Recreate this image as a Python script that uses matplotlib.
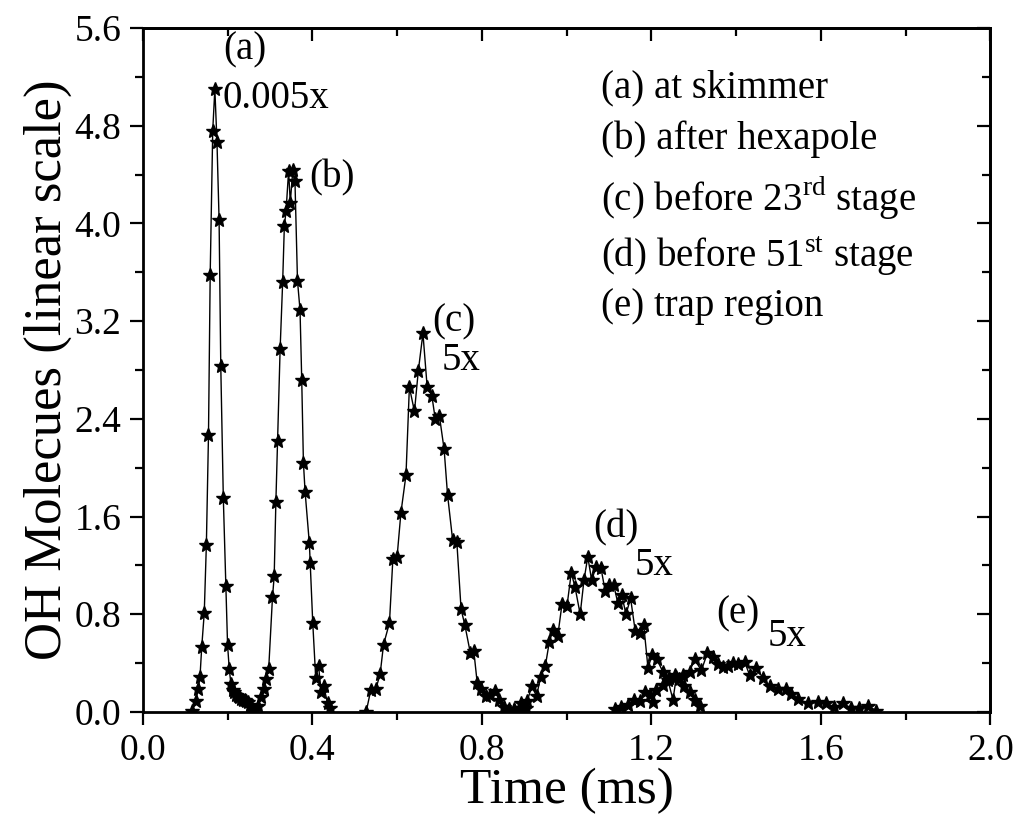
import numpy as np
import matplotlib
matplotlib.use("Agg")
import matplotlib.pyplot as plt
from matplotlib.ticker import MultipleLocator, FormatStrFormatter

plt.rcParams['font.family'] = ['Liberation Serif', 'DejaVu Serif']
plt.rcParams['mathtext.fontset'] = 'custom'
plt.rcParams['mathtext.rm'] = 'Liberation Serif'

# (a) at skimmer (scaled 0.005x)
t_a = [0.117, 0.125, 0.131, 0.135, 0.139, 0.145, 0.150, 0.155, 0.159, 0.165, 0.170,
       0.175, 0.180, 0.184, 0.190, 0.196, 0.200, 0.204, 0.208, 0.212, 0.216, 0.220,
       0.224, 0.228, 0.232, 0.236, 0.240, 0.244, 0.248, 0.252, 0.256]
y_a = [0.01, 0.09, 0.19, 0.29, 0.53, 0.81, 1.37, 2.27, 3.58, 4.76, 5.10,
       4.67, 4.03, 2.83, 1.75, 1.03, 0.55, 0.35, 0.23, 0.18, 0.16, 0.14,
       0.13, 0.12, 0.11, 0.10, 0.10, 0.09, 0.08, 0.06, 0.04]

# (b) after hexapole
t_b = [0.263, 0.271, 0.279, 0.286, 0.290, 0.297, 0.306, 0.310, 0.314, 0.318, 0.324,
       0.330, 0.334, 0.338, 0.344, 0.348, 0.354, 0.359, 0.365, 0.371, 0.375, 0.379,
       0.383, 0.393, 0.395, 0.401, 0.408, 0.415, 0.420, 0.427, 0.436, 0.442]
y_b = [0.01, 0.05, 0.12, 0.19, 0.27, 0.35, 0.94, 1.11, 1.72, 2.22, 2.97,
       3.52, 3.98, 4.10, 4.43, 4.17, 4.44, 4.35, 3.53, 3.29, 2.72, 2.04,
       1.80, 1.38, 1.22, 0.73, 0.28, 0.38, 0.16, 0.21, 0.07, 0.03]

# (c) before 23rd stage (5x)
t_c = [0.527, 0.538, 0.550, 0.560, 0.568, 0.582, 0.590, 0.600, 0.609, 0.621, 0.629,
       0.641, 0.650, 0.661, 0.671, 0.682, 0.690, 0.700, 0.711, 0.719, 0.731, 0.741,
       0.751, 0.760, 0.773, 0.781, 0.789, 0.798, 0.810, 0.820, 0.831, 0.841, 0.853,
       0.865, 0.877, 0.893, 0.904]
y_c = [0.00, 0.18, 0.19, 0.31, 0.55, 0.73, 1.25, 1.27, 1.63, 1.94, 2.66,
       2.46, 2.79, 3.10, 2.66, 2.59, 2.40, 2.42, 2.15, 1.78, 1.41, 1.39,
       0.84, 0.71, 0.48, 0.50, 0.24, 0.19, 0.13, 0.14, 0.17, 0.10, 0.04,
       0.02, 0.01, 0.07, 0.03]

# (d) before 51st stage (5x)
t_d = [0.862, 0.877, 0.890, 0.900, 0.907, 0.918, 0.929, 0.939, 0.950, 0.959, 0.968,
       0.979, 0.989, 1.001, 1.011, 1.020, 1.032, 1.041, 1.050, 1.059, 1.070, 1.081,
       1.091, 1.101, 1.111, 1.121, 1.130, 1.140, 1.151, 1.162, 1.172, 1.182, 1.192,
       1.202, 1.213, 1.227, 1.241, 1.255, 1.266, 1.278, 1.290, 1.302, 1.314]
y_d = [0.01, 0.02, 0.03, 0.03, 0.09, 0.21, 0.13, 0.29, 0.38, 0.57, 0.67,
       0.62, 0.88, 0.87, 1.14, 1.02, 0.80, 1.08, 1.27, 1.08, 1.19, 1.18,
       0.99, 1.04, 1.04, 0.89, 0.96, 0.80, 0.93, 0.66, 0.65, 0.71, 0.36,
       0.47, 0.43, 0.33, 0.28, 0.30, 0.27, 0.21, 0.16, 0.10, 0.05]

# (e) trap region (5x)
t_e = [1.113, 1.129, 1.144, 1.160, 1.172, 1.184, 1.196, 1.204, 1.212, 1.227, 1.239,
       1.251, 1.259, 1.274, 1.290, 1.302, 1.318, 1.332, 1.345, 1.357, 1.369, 1.380,
       1.392, 1.404, 1.420, 1.432, 1.447, 1.463, 1.479, 1.499, 1.518, 1.530, 1.546,
       1.569, 1.593, 1.613, 1.632, 1.652, 1.672, 1.691, 1.711, 1.731]
y_e = [0.02, 0.04, 0.06, 0.10, 0.09, 0.16, 0.14, 0.08, 0.18, 0.22, 0.26,
       0.10, 0.29, 0.30, 0.33, 0.43, 0.34, 0.48, 0.45, 0.39, 0.37, 0.38,
       0.40, 0.39, 0.41, 0.30, 0.36, 0.28, 0.21, 0.19, 0.19, 0.15, 0.11,
       0.07, 0.08, 0.07, 0.04, 0.07, 0.03, 0.03, 0.05, 0.01]

legend_lines = ["(a) at skimmer",
                "(b) after hexapole",
                r"(c) before 23$^{\mathrm{rd}}$ stage",
                r"(d) before 51$^{\mathrm{st}}$ stage",
                "(e) trap region"]

fig = plt.figure(figsize=(10.2, 8.24), dpi=100)
ax = fig.add_axes([0.140, 0.136, 0.831, 0.830])

for t, y in [(t_a, y_a), (t_b, y_b), (t_c, y_c), (t_d, y_d), (t_e, y_e)]:
    ax.plot(t, y, color='black', lw=1.0, marker='*', ms=10, mfc='black', mec='black')

ax.set_xlim(0, 2.0)
ax.set_ylim(0, 5.6)
ax.xaxis.set_major_locator(MultipleLocator(0.4))
ax.xaxis.set_minor_locator(MultipleLocator(0.2))
ax.yaxis.set_major_locator(MultipleLocator(0.8))
ax.yaxis.set_minor_locator(MultipleLocator(0.4))
ax.xaxis.set_major_formatter(FormatStrFormatter('%.1f'))
ax.yaxis.set_major_formatter(FormatStrFormatter('%.1f'))
ax.tick_params(which='major', direction='out', length=9.5, width=1.6, labelsize=27, pad=6)
ax.tick_params(which='minor', direction='out', length=5.5, width=1.6)
for s in ax.spines.values():
    s.set_linewidth(2)

# mirrored inward ticks on top and right
top = ax.secondary_xaxis('top')
right = ax.secondary_yaxis('right')
for sec, axis in [(top, top.xaxis), (right, right.yaxis)]:
    axis.set_major_locator(MultipleLocator(0.4 if sec is top else 0.8))
    axis.set_minor_locator(MultipleLocator(0.2 if sec is top else 0.4))
    sec.tick_params(which='major', direction='in', length=9.5, width=1.6,
                    labeltop=False, labelright=False)
    sec.tick_params(which='minor', direction='in', length=5.5, width=1.6)
    for s in sec.spines.values():
        s.set_linewidth(2)
top.set_xticklabels([])
right.set_yticklabels([])

ax.set_xlabel("Time (ms)", fontsize=37, labelpad=0)
ax.set_ylabel("OH Molecues (linear scale)", fontsize=38, labelpad=2)

fs = 28
ax.text(0.241, 5.42, "(a)", fontsize=fs, ha='center', va='center')
ax.text(0.189, 5.02, "0.005x", fontsize=fs, ha='left', va='center')
ax.text(0.392, 4.37, "(b)", fontsize=fs, ha='left', va='center')
ax.text(0.684, 3.19, "(c)", fontsize=fs, ha='left', va='center')
ax.text(0.704, 2.88, "5x", fontsize=fs, ha='left', va='center')
ax.text(1.062, 1.51, "(d)", fontsize=fs, ha='left', va='center')
ax.text(1.160, 1.20, "5x", fontsize=fs, ha='left', va='center')
ax.text(1.353, 0.80, "(e)", fontsize=fs, ha='left', va='center')
ax.text(1.475, 0.62, "5x", fontsize=fs, ha='left', va='center')

leg_y = [5.11, 4.69, 4.22, 3.73, 3.32]
for txt, yy in zip(legend_lines, leg_y):
    ax.text(1.081, yy, txt, fontsize=fs, ha='left', va='center')

fig.savefig("out.png", dpi=100)
